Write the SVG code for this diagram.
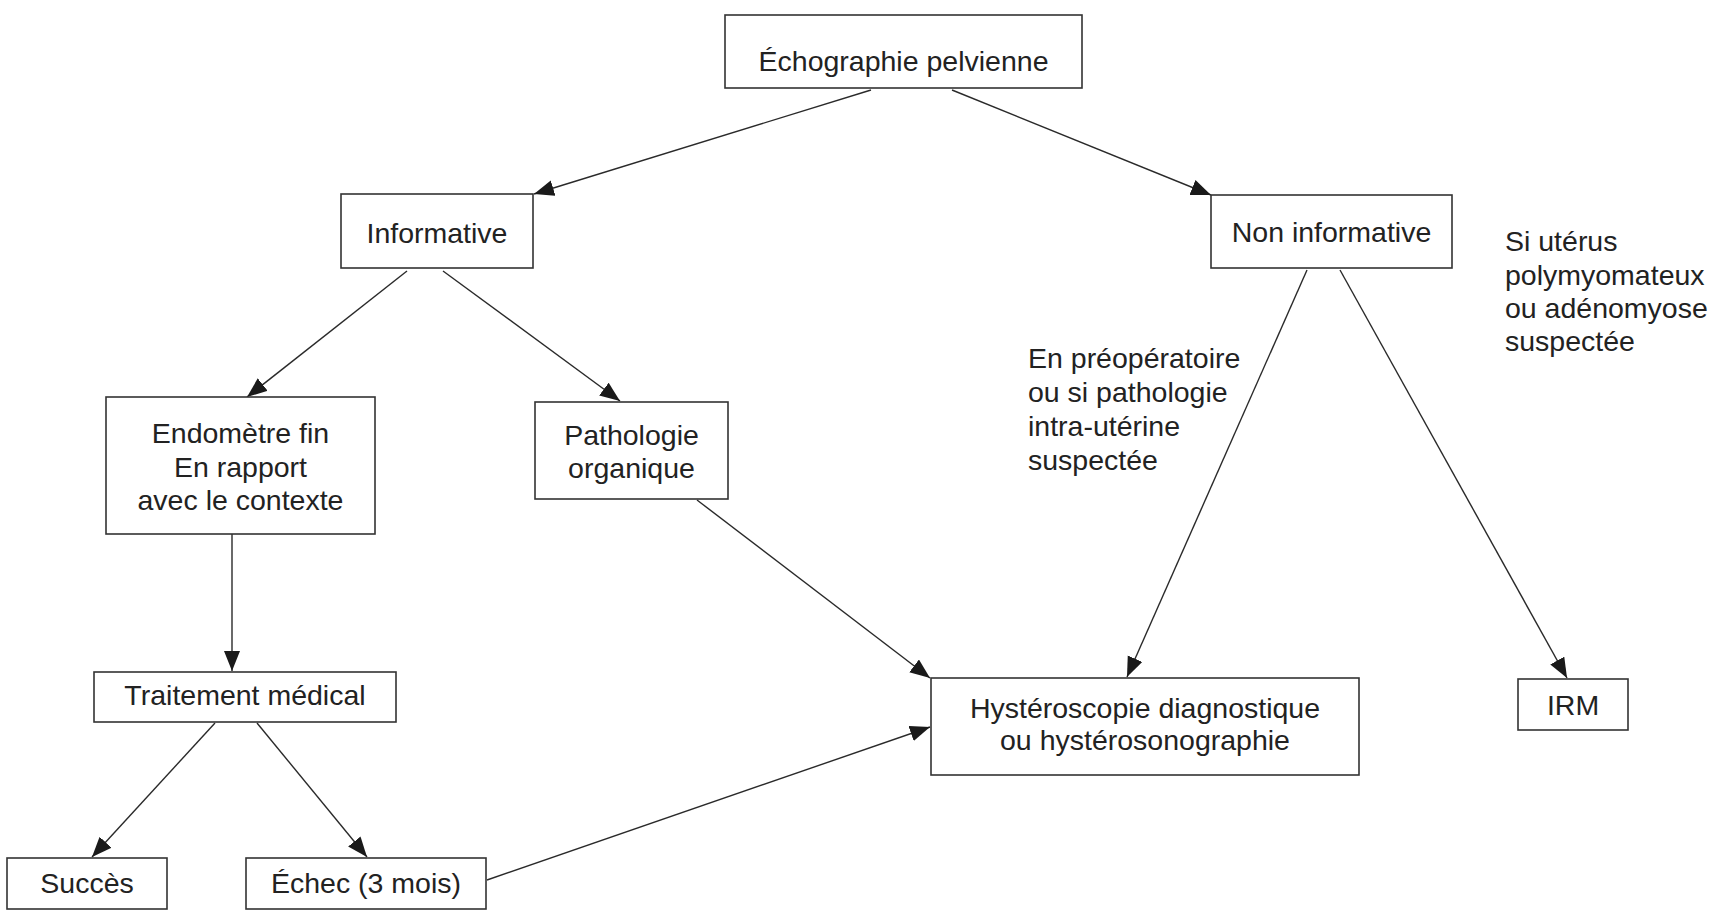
<svg xmlns="http://www.w3.org/2000/svg" width="1725" height="914" viewBox="0 0 1725 914">
  <style>
    .box { fill: #ffffff; stroke: #333333; stroke-width: 1.6; }
    .t { font-family: "Liberation Sans", Arial, sans-serif; font-size: 28.5px; fill: #222222; }
    .c { text-anchor: middle; }
    .edge { stroke: #2a2a2a; stroke-width: 1.4; fill: none; marker-end: url(#arrow); }
  </style>
  <defs>
    <marker id="arrow" markerUnits="userSpaceOnUse" markerWidth="22" markerHeight="18" refX="20" refY="8" orient="auto">
      <path d="M0,0 L20,8 L0,16 z" fill="#1a1a1a"/>
    </marker>
  </defs>
  <rect width="1725" height="914" fill="#ffffff"/>

  <g id="connectors">
    <line class="edge" x1="871" y1="90" x2="534" y2="194"/>
    <line class="edge" x1="952" y1="90" x2="1211" y2="195"/>
    <line class="edge" x1="407" y1="271" x2="247" y2="397"/>
    <line class="edge" x1="443" y1="271" x2="620" y2="401"/>
    <line class="edge" x1="232" y1="534" x2="232" y2="671"/>
    <line class="edge" x1="215" y1="723" x2="92" y2="857"/>
    <line class="edge" x1="257" y1="723" x2="367" y2="857"/>
    <line class="edge" x1="697" y1="500" x2="930" y2="678"/>
    <line class="edge" x1="487" y1="880" x2="930" y2="727"/>
    <line class="edge" x1="1307" y1="270" x2="1127" y2="677"/>
    <line class="edge" x1="1340" y1="270" x2="1567" y2="678"/>
  </g>

  <g id="echographie">
    <rect class="box" x="725" y="15" width="357" height="73"/>
    <text class="t c" x="903.5" y="71">Échographie pelvienne</text>
  </g>

  <g id="informative">
    <rect class="box" x="341" y="194" width="192" height="74"/>
    <text class="t c" x="437" y="243">Informative</text>
  </g>

  <g id="non-informative">
    <rect class="box" x="1211" y="195" width="241" height="73"/>
    <text class="t c" x="1331.5" y="242">Non informative</text>
  </g>

  <g id="label-irm-condition">
    <text class="t" x="1505" y="251">Si utérus</text>
    <text class="t" x="1505" y="285">polymyomateux</text>
    <text class="t" x="1505" y="318">ou adénomyose</text>
    <text class="t" x="1505" y="351">suspectée</text>
  </g>

  <g id="label-hystero-condition">
    <text class="t" x="1028" y="368">En préopératoire</text>
    <text class="t" x="1028" y="402">ou si pathologie</text>
    <text class="t" x="1028" y="436">intra-utérine</text>
    <text class="t" x="1028" y="470">suspectée</text>
  </g>

  <g id="endometre">
    <rect class="box" x="106" y="397" width="269" height="137"/>
    <text class="t c" x="240.5" y="443">Endomètre fin</text>
    <text class="t c" x="240.5" y="477">En rapport</text>
    <text class="t c" x="240.5" y="510">avec le contexte</text>
  </g>

  <g id="pathologie">
    <rect class="box" x="535" y="402" width="193" height="97"/>
    <text class="t c" x="631.5" y="445">Pathologie</text>
    <text class="t c" x="631.5" y="478">organique</text>
  </g>

  <g id="traitement">
    <rect class="box" x="94" y="672" width="302" height="50"/>
    <text class="t c" x="245" y="705">Traitement médical</text>
  </g>

  <g id="hysteroscopie">
    <rect class="box" x="931" y="678" width="428" height="97"/>
    <text class="t c" x="1145" y="718">Hystéroscopie diagnostique</text>
    <text class="t c" x="1145" y="750">ou hystérosonographie</text>
  </g>

  <g id="irm">
    <rect class="box" x="1518" y="679" width="110" height="51"/>
    <text class="t c" x="1573" y="715">IRM</text>
  </g>

  <g id="succes">
    <rect class="box" x="7" y="858" width="160" height="51"/>
    <text class="t c" x="87" y="893">Succès</text>
  </g>

  <g id="echec">
    <rect class="box" x="246" y="858" width="240" height="51"/>
    <text class="t c" x="366" y="893">Échec (3 mois)</text>
  </g>
</svg>
